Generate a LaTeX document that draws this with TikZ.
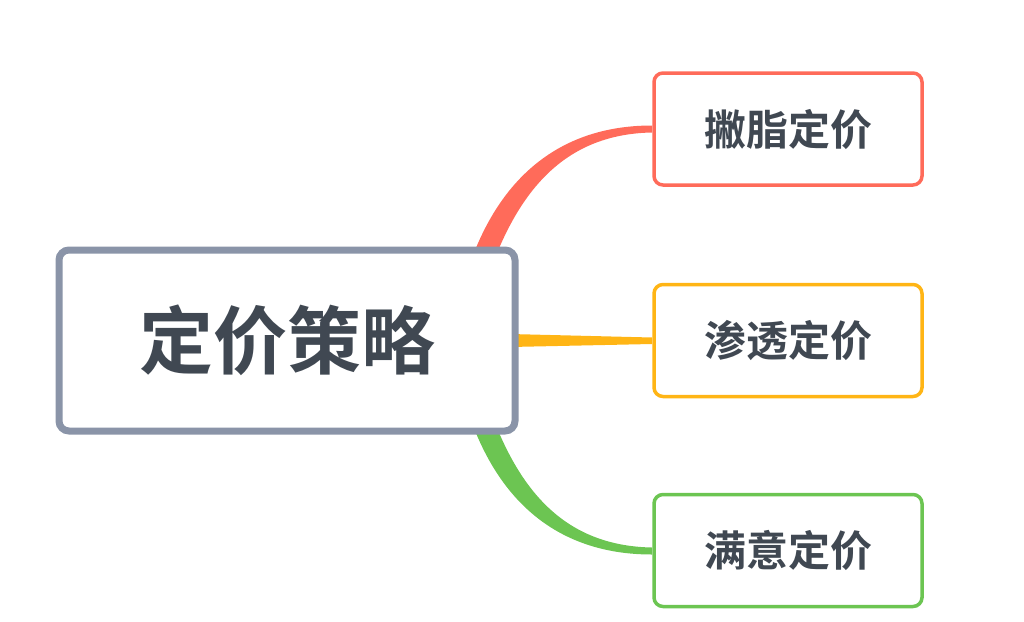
\documentclass[tikz,border=0pt]{standalone}
\usepackage{fontspec}
\newfontfamily\cjk{Noto Sans CJK SC}[BoldFont={Noto Sans CJK SC Bold}]
\definecolor{txt}{HTML}{404852}
\definecolor{cred}{HTML}{FF6B5A}
\definecolor{cyel}{HTML}{FFB515}
\definecolor{cgrn}{HTML}{6CC552}
\definecolor{cgray}{HTML}{8A94A8}
\tikzset{
  rootbox/.style={draw=cgray, line width=7pt, rounded corners=10pt, fill=white,
    minimum width=456pt, minimum height=181pt, inner sep=0pt, text=txt,
    font=\cjk\bfseries\fontsize{74}{80}\selectfont},
  leafbox/.style={line width=3.5pt, rounded corners=9pt, fill=white,
    minimum width=268pt, minimum height=112pt, inner sep=0pt, text=txt,
    font=\cjk\bfseries\fontsize{42}{48}\selectfont},
}
\begin{document}
\begin{tikzpicture}[x=1pt,y=-1pt]
\useasboundingbox (0,0) rectangle (1024,621);
% anchor points
\coordinate (t0) at (472,258); \coordinate (t1) at (495,258);
\coordinate (b0) at (472,423); \coordinate (b1) at (495,423);
% connectors (tapered)
\fill[cred] (t0) .. controls (505,170) and (567,125.5) .. (652,125.5) -- (652,132.5) .. controls (573,134) and (526,180) .. (t1) -- cycle;
\fill[cyel] (510,334) -- (652,337.5) -- (652,344) -- (510,347) -- cycle;
\fill[cgrn] (b0) .. controls (505,511) and (567,554.5) .. (652,554.5) -- (652,547.5) .. controls (573,546) and (526,501) .. (b1) -- cycle;
% nodes
\node[rootbox] (root) at (287,340.5) {定价策略};
\node[leafbox, draw=cred] (a) at (788,129) {撇脂定价};
\node[leafbox, draw=cyel] (b) at (788,340.5) {渗透定价};
\node[leafbox, draw=cgrn] (c) at (788,550.5) {满意定价};
\end{tikzpicture}
\end{document}
